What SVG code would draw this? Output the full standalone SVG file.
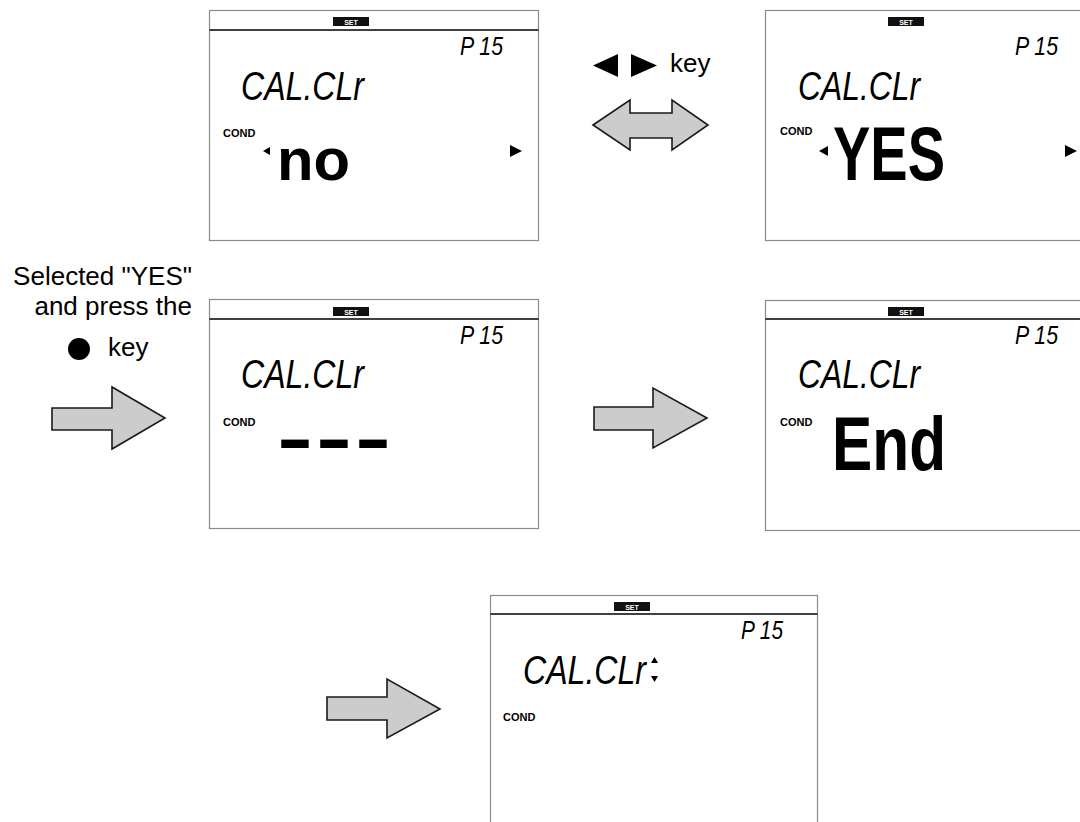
<svg xmlns="http://www.w3.org/2000/svg" width="1080" height="822" viewBox="0 0 1080 822">
<style>
.panel{fill:#fff;stroke:#8a8a8a;stroke-width:1.2}
.sep{stroke:#000;stroke-width:1.5}
.badge{fill:#111}
.set{font-family:"Liberation Sans",Arial,sans-serif;font-weight:bold;font-size:7px;fill:#fff;text-anchor:middle}
.seg{font-family:"Liberation Sans",Arial,sans-serif;font-style:italic;fill:#000}
.big{font-family:"Liberation Sans",Arial,sans-serif;font-weight:bold;fill:#000}
.cond{font-family:"Liberation Sans",Arial,sans-serif;font-weight:bold;font-size:11px;fill:#000}
.lbl{font-family:"Liberation Sans",Arial,sans-serif;font-size:26px;fill:#000}
.arrow{fill:#cccccc;stroke:#1a1a1a;stroke-width:1.6;stroke-linejoin:miter}
</style>
<rect width="1080" height="822" fill="#fff"/>

<g id="panel-no">
<rect class="panel" x="209.5" y="10.5" width="329" height="230"/>
<line class="sep" x1="209.5" y1="30" x2="538.5" y2="30"/>
<rect class="badge" x="333" y="17" width="36" height="9"/>
<text class="set" x="351" y="24.5">SET</text>
<text class="seg" x="460" y="55" font-size="26" textLength="43" lengthAdjust="spacingAndGlyphs">P 15</text>
<text class="seg" x="241" y="100" font-size="40" textLength="123" lengthAdjust="spacingAndGlyphs">CAL.CLr</text>
<text class="cond" x="223" y="137">COND</text>
<polygon points="270,147 270,155 263,151" fill="#000"/>
<text class="big" x="277" y="180" font-size="60" textLength="73" lengthAdjust="spacingAndGlyphs">no</text>
<polygon points="510,145 510,157 522,151" fill="#000"/>
</g>

<g id="panel-yes">
<rect class="panel" x="765.5" y="10.5" width="330" height="230"/>
<rect class="badge" x="888" y="17" width="36" height="9"/>
<text class="set" x="906" y="24.5">SET</text>
<text class="seg" x="1015" y="55" font-size="26" textLength="43" lengthAdjust="spacingAndGlyphs">P 15</text>
<text class="seg" x="798" y="100" font-size="40" textLength="122" lengthAdjust="spacingAndGlyphs">CAL.CLr</text>
<text class="cond" x="780" y="135">COND</text>
<polygon points="828,146 828,156 819,151" fill="#000"/>
<text class="big" x="833" y="180" font-size="76" textLength="112" lengthAdjust="spacingAndGlyphs">YES</text>
<polygon points="1065,145 1065,157 1077,151" fill="#000"/>
</g>

<g id="panel-dashes">
<rect class="panel" x="209.5" y="299.5" width="329" height="229"/>
<line class="sep" x1="209.5" y1="319" x2="538.5" y2="319"/>
<rect class="badge" x="333" y="307" width="36" height="9"/>
<text class="set" x="351" y="314.5">SET</text>
<text class="seg" x="460" y="344" font-size="26" textLength="43" lengthAdjust="spacingAndGlyphs">P 15</text>
<text class="seg" x="241" y="388" font-size="40" textLength="123" lengthAdjust="spacingAndGlyphs">CAL.CLr</text>
<text class="cond" x="223" y="426">COND</text>
<text class="big" x="277" y="462" font-size="70" textLength="36" lengthAdjust="spacingAndGlyphs">-</text>
<text class="big" x="316" y="462" font-size="70" textLength="36" lengthAdjust="spacingAndGlyphs">-</text>
<text class="big" x="355" y="462" font-size="70" textLength="36" lengthAdjust="spacingAndGlyphs">-</text>
</g>

<g id="panel-end">
<rect class="panel" x="765.5" y="300.5" width="330" height="230"/>
<line class="sep" x1="765.5" y1="319" x2="1080" y2="319"/>
<rect class="badge" x="888" y="307" width="36" height="9"/>
<text class="set" x="906" y="314.5">SET</text>
<text class="seg" x="1015" y="344" font-size="26" textLength="43" lengthAdjust="spacingAndGlyphs">P 15</text>
<text class="seg" x="798" y="388" font-size="40" textLength="122" lengthAdjust="spacingAndGlyphs">CAL.CLr</text>
<text class="cond" x="780" y="426">COND</text>
<text class="big" x="832" y="470" font-size="76" textLength="114" lengthAdjust="spacingAndGlyphs">End</text>
</g>

<g id="panel-final">
<rect class="panel" x="490.5" y="595.5" width="327" height="240"/>
<line class="sep" x1="490.5" y1="614" x2="817.5" y2="614"/>
<rect class="badge" x="614" y="602" width="36" height="9"/>
<text class="set" x="632" y="609.5">SET</text>
<text class="seg" x="741" y="639" font-size="26" textLength="42" lengthAdjust="spacingAndGlyphs">P 15</text>
<text class="seg" x="523" y="684" font-size="40" textLength="123" lengthAdjust="spacingAndGlyphs">CAL.CLr</text>
<polygon points="654.5,657 651,663 658,663" fill="#000"/>
<polygon points="651,676 658,676 654.5,682" fill="#000"/>
<text class="cond" x="503" y="721">COND</text>
</g>

<g id="label-lr-key">
<polygon points="618,54 618,77 593,65.5" fill="#000"/>
<polygon points="631,54 631,77 657,65.5" fill="#000"/>
<text class="lbl" x="670" y="72">key</text>
</g>

<g id="label-select">
<text class="lbl" x="192" y="285" text-anchor="end">Selected "YES"</text>
<text class="lbl" x="192" y="315" text-anchor="end">and press the</text>
<circle cx="79" cy="349" r="11" fill="#000"/>
<text class="lbl" x="108" y="356">key</text>
</g>

<g id="connectors">
<polygon class="arrow" points="593,125 630,100 630,113 672,113 672,100 708,125 672,150 672,138 630,138 630,150"/>
<polygon class="arrow" points="52,408 112,408 112,387 165,418 112,449 112,430 52,430"/>
<polygon class="arrow" points="594,407 653,407 653,388 707,418 653,448 653,430 594,430"/>
<polygon class="arrow" points="327,697 387,697 387,679 440,709 387,738 387,720 327,720"/>
</g>
</svg>
